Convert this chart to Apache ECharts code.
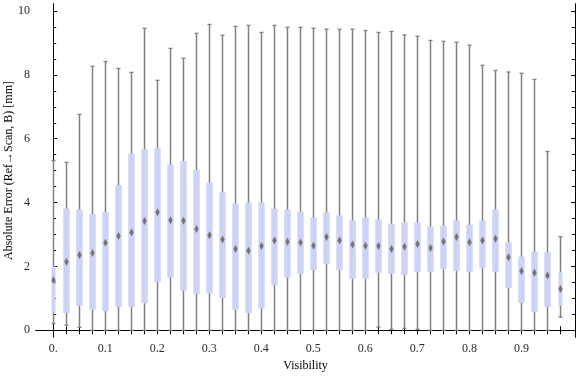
<!DOCTYPE html>
<html>
<head>
<meta charset="utf-8">
<script src="https://cdn.jsdelivr.net/npm/echarts@6/dist/echarts.min.js"></script>
<style>
html,body{margin:0;padding:0;background:#fff;}
#chart{width:576px;height:377px;}
</style>
</head>
<body>
<div id="chart"></div>
<script>
// ---- data ----
const visibility = [0, 0.025, 0.05, 0.075, 0.1, 0.125, 0.15, 0.175, 0.2, 0.225,
  0.25, 0.275, 0.3, 0.325, 0.35, 0.375, 0.4, 0.425, 0.45, 0.475,
  0.5, 0.525, 0.55, 0.575, 0.6, 0.625, 0.65, 0.675, 0.7, 0.725,
  0.75, 0.775, 0.8, 0.825, 0.85, 0.875, 0.9, 0.925, 0.95, 0.975];
const whiskerHigh = [5.32, 5.26, 6.76, 8.27, 8.42, 8.20, 8.08, 9.46, 7.83, 8.83,
  8.52, 9.30, 9.58, 9.24, 9.52, 9.55, 9.33, 9.55, 9.49, 9.49,
  9.46, 9.43, 9.43, 9.43, 9.39, 9.33, 9.36, 9.25, 9.21, 9.08,
  9.05, 9.02, 8.93, 8.30, 8.14, 8.09, 8.05, 7.86, 5.60, 2.93];
const quartile3 = [2.00, 3.82, 3.78, 3.64, 3.70, 4.55, 5.54, 5.67, 5.71, 5.18,
  5.30, 5.02, 4.63, 4.32, 3.97, 4.00, 4.00, 3.81, 3.78, 3.72,
  3.53, 3.69, 3.60, 3.44, 3.53, 3.47, 3.34, 3.38, 3.38, 3.25,
  3.28, 3.44, 3.31, 3.44, 3.78, 2.76, 2.31, 2.47, 2.44, 1.83];
const medians = [1.57, 2.15, 2.36, 2.42, 2.74, 2.95, 3.06, 3.42, 3.70, 3.45,
  3.43, 3.17, 2.98, 2.84, 2.55, 2.49, 2.64, 2.81, 2.77, 2.75,
  2.65, 2.92, 2.81, 2.69, 2.65, 2.64, 2.55, 2.62, 2.70, 2.58,
  2.78, 2.92, 2.76, 2.81, 2.87, 2.29, 1.86, 1.80, 1.72, 1.29];
const quartile1 = [0.56, 0.54, 0.77, 0.64, 0.60, 0.73, 0.73, 0.85, 1.51, 1.66,
  1.24, 1.14, 1.17, 1.01, 0.64, 0.54, 0.68, 1.42, 1.65, 1.77,
  1.89, 2.08, 1.89, 1.61, 1.61, 1.80, 1.77, 1.73, 1.83, 1.83,
  1.92, 1.86, 1.83, 1.95, 1.83, 1.33, 0.86, 0.57, 0.73, 0.76];
const whiskerLow = [0.21, 0.16, 0.09, 0, 0, 0, 0, 0, 0, 0,
  0, 0, 0, 0, 0, 0, 0, 0, 0, 0,
  0, 0, 0, 0, 0, 0.10, 0.03, 0.06, 0.03, 0,
  0, 0, 0, 0, 0, 0, 0, 0, 0, 0.41];
const xLabelValues = [0, 0.1, 0.2, 0.3, 0.4, 0.5, 0.6, 0.7, 0.8, 0.9];
const yLabelValues = [0, 2, 4, 6, 8, 10];
const yMinorTicks = [0.5, 1, 1.5, 2.5, 3, 3.5, 4.5, 5, 5.5, 6.5, 7, 7.5, 8.5, 9, 9.5];
const xTitle = 'Visibility';
const yTitle = 'Absolute Error (Ref\u2192Scan, B) [mm]';

// ---- build ----
const boxData = visibility.map((v, i) => [v, whiskerLow[i], quartile1[i], medians[i], quartile3[i], whiskerHigh[i]]);
const lastIdx = visibility.length - 1;

const FONT = 'Liberation Serif';
const LABEL_COLOR = '#2a2a2a';
const X_MIN = -0.033, X_MAX = 1.003, Y_MIN = -0.21, Y_MAX = 10.22;

function renderBox(params, api) {
  const idx = params.dataIndex;
  const x = api.value(0);
  const pLow = api.coord([x, api.value(1)]);
  const pQ1 = api.coord([x, api.value(2)]);
  const pMed = api.coord([x, api.value(3)]);
  const pQ3 = api.coord([x, api.value(4)]);
  const pHigh = api.coord([x, api.value(5)]);
  const px = Math.round(pLow[0]) + 0.5;
  const halfW = (idx === 0 || idx === lastIdx) ? 2 : 3.2;
  const capW = 2;
  const gray = '#808080';
  return {
    type: 'group',
    children: [
      { type: 'line', shape: { x1: px, y1: pHigh[1], x2: px, y2: pLow[1] },
        style: { stroke: gray, lineWidth: 1.5 } },
      { type: 'line', shape: { x1: px - capW, y1: pHigh[1], x2: px + capW, y2: pHigh[1] },
        style: { stroke: gray, lineWidth: 1.3 } },
      { type: 'line', shape: { x1: px - capW, y1: pLow[1], x2: px + capW, y2: pLow[1] },
        style: { stroke: gray, lineWidth: 1.3 } },
      { type: 'rect', shape: { x: px - halfW, y: pQ3[1], width: halfW * 2, height: pQ1[1] - pQ3[1] },
        style: { fill: '#CCD3F5' } },
      { type: 'polygon', shape: { points: [[px, pMed[1] - 4], [px + 2.2, pMed[1]], [px, pMed[1] + 4], [px - 2.2, pMed[1]]] },
        style: { fill: '#747474' } }
    ]
  };
}

const axisLineStyle = { show: true, lineStyle: { color: '#000', width: 1 } };

function yAxisCfg(position, ticks, len, labels, extra) {
  return Object.assign({
    type: 'value', position: position, min: Y_MIN, max: Y_MAX,
    axisLine: axisLineStyle,
    axisTick: { show: true, inside: true, length: len, customValues: ticks, lineStyle: { color: '#000', width: 1 } },
    axisLabel: labels ? { show: true, customValues: labels, fontFamily: FONT, fontSize: 12, color: LABEL_COLOR, margin: 6 } : { show: false },
    splitLine: { show: false }
  }, extra || {});
}

const option = {
  animation: false,
  backgroundColor: '#fff',
  grid: { left: 36, right: 1, top: 4, bottom: 40, containLabel: false, outerBoundsMode: 'none' },
  xAxis: [
    {
      type: 'value', position: 'bottom', min: X_MIN, max: X_MAX,
      axisLine: axisLineStyle,
      axisTick: { show: true, inside: true, length: 4, customValues: visibility, lineStyle: { color: '#000', width: 1 } },
      axisLabel: { show: true, customValues: xLabelValues, fontFamily: FONT, fontSize: 12, color: LABEL_COLOR, margin: 6,
        formatter: v => (v === 0 ? '0.' : String(+v.toFixed(2))) },
      splitLine: { show: false },
      name: xTitle, nameLocation: 'middle', nameGap: 23, nameMoveOverlap: false,
      nameTextStyle: { fontFamily: FONT, fontSize: 12, color: '#000' }
    },
    {
      type: 'value', position: 'top', min: X_MIN, max: X_MAX,
      axisLine: axisLineStyle,
      axisTick: { show: true, inside: true, length: 4, customValues: visibility, lineStyle: { color: '#000', width: 1 } },
      axisLabel: { show: false },
      splitLine: { show: false }
    }
  ],
  yAxis: [
    yAxisCfg('left', yLabelValues, 4, yLabelValues, {
      name: yTitle, nameLocation: 'middle', nameGap: 21, nameMoveOverlap: false,
      nameTextStyle: { fontFamily: FONT, fontSize: 12, color: '#000' }
    }),
    yAxisCfg('left', yMinorTicks, 3, null),
    yAxisCfg('right', yLabelValues, 4, null),
    yAxisCfg('right', yMinorTicks, 3, null)
  ],
  series: [{
    type: 'custom',
    xAxisIndex: 0, yAxisIndex: 0,
    renderItem: renderBox,
    encode: { x: 0, y: [1, 2, 3, 4, 5] },
    data: boxData,
    z: 2
  }]
};

const chart = echarts.init(document.getElementById('chart'), null, { renderer: 'canvas' });
chart.setOption(option);
</script>
</body>
</html>
